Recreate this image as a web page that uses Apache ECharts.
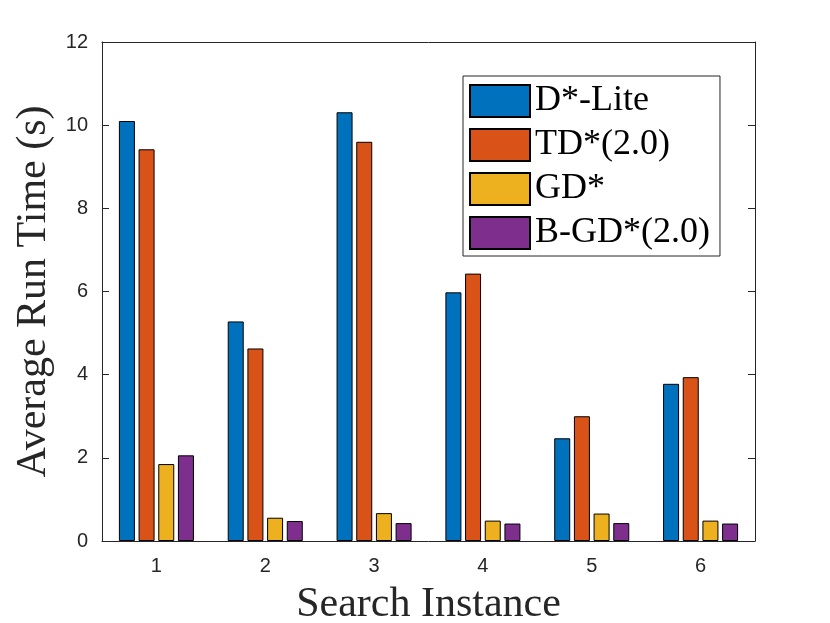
<!DOCTYPE html>
<html>
<head>
<meta charset="UTF-8">
<title>Average Run Time</title>
<script src="https://cdn.jsdelivr.net/npm/echarts@6/dist/echarts.min.js"></script>
<style>
  html, body { margin: 0; padding: 0; background: #fff; }
  #container { width: 830px; height: 623px; }
</style>
</head>
<body>
<div id="container"></div>

<script type="text/javascript">
// data
var instances = ['1', '2', '3', '4', '5', '6'];
var dLite   = [10.10, 5.28, 10.31, 5.98, 2.47, 3.78];
var td20    = [9.42, 4.63, 9.60, 6.43, 3.00, 3.94];
var gd      = [1.85, 0.56, 0.67, 0.49, 0.66, 0.49];
var bgd20   = [2.06, 0.48, 0.43, 0.42, 0.43, 0.42];
var seriesNames = ['D*-Lite', 'TD*(2.0)', 'GD*', 'B-GD*(2.0)'];
var yTicks = { min: 0, max: 12, interval: 2 };

var colors = ['#0072BD', '#D95319', '#EDB120', '#7E2F8E'];
var axisColor = '#262626';

var dom = document.getElementById("container");
var myChart = echarts.init(dom);

function barSeries(name, values) {
    return {
        name: name,
        type: 'bar',
        data: values,
        barWidth: 16,
        barGap: '23%',
        itemStyle: { borderColor: '#000', borderWidth: 1 }
    };
}

var tickLabel = { color: axisColor, fontFamily: 'Liberation Sans', fontSize: 20 };
var titleFont = { color: axisColor, fontFamily: 'Liberation Serif', fontSize: 42 };

var option = {
    animation: false,
    color: colors,
    grid: { left: 102, right: 75, top: 42, bottom: 82, containLabel: false, outerBoundsMode: 'none' },
    legend: {
        orient: 'vertical',
        left: 463,
        top: 76,
        padding: [7, 10, 5, 6],
        itemGap: 8,
        itemWidth: 60,
        itemHeight: 32,
        icon: 'rect',
        backgroundColor: '#fff',
        borderColor: axisColor,
        borderWidth: 1,
        data: seriesNames,
        textStyle: { color: '#000', fontFamily: 'Liberation Serif', fontSize: 36, lineHeight: 32 }
    },
    xAxis: [
        {
            type: 'category',
            data: instances,
            name: 'Search Instance',
            nameLocation: 'middle',
            nameGap: 43,
            nameTextStyle: titleFont,
            axisLine: { onZero: false, lineStyle: { color: axisColor, width: 1 } },
            axisTick: { inside: true, alignWithLabel: true, length: 6, lineStyle: { color: axisColor } },
            axisLabel: Object.assign({ margin: 15 }, tickLabel)
        },
        {
            type: 'category',
            data: instances,
            position: 'top',
            axisLine: { onZero: false, lineStyle: { color: axisColor, width: 1 } },
            axisTick: { inside: true, alignWithLabel: true, length: 6, lineStyle: { color: axisColor } },
            axisLabel: { show: false }
        }
    ],
    yAxis: [
        {
            type: 'value',
            min: yTicks.min,
            max: yTicks.max,
            interval: yTicks.interval,
            name: 'Average Run Time (s)',
            nameLocation: 'middle',
            nameGap: 47,
            nameTextStyle: titleFont,
            splitLine: { show: false },
            axisLine: { show: true, lineStyle: { color: axisColor, width: 1 } },
            axisTick: { show: true, inside: true, length: 7, lineStyle: { color: axisColor } },
            axisLabel: Object.assign({ margin: 14 }, tickLabel)
        },
        {
            type: 'value',
            position: 'right',
            min: yTicks.min,
            max: yTicks.max,
            interval: yTicks.interval,
            splitLine: { show: false },
            axisLine: { show: true, lineStyle: { color: axisColor, width: 1 } },
            axisTick: { show: true, inside: true, length: 7, lineStyle: { color: axisColor } },
            axisLabel: { show: false }
        }
    ],
    series: [
        barSeries(seriesNames[0], dLite),
        barSeries(seriesNames[1], td20),
        barSeries(seriesNames[2], gd),
        barSeries(seriesNames[3], bgd20)
    ]
};

myChart.setOption(option, true);
</script>
</body>
</html>
